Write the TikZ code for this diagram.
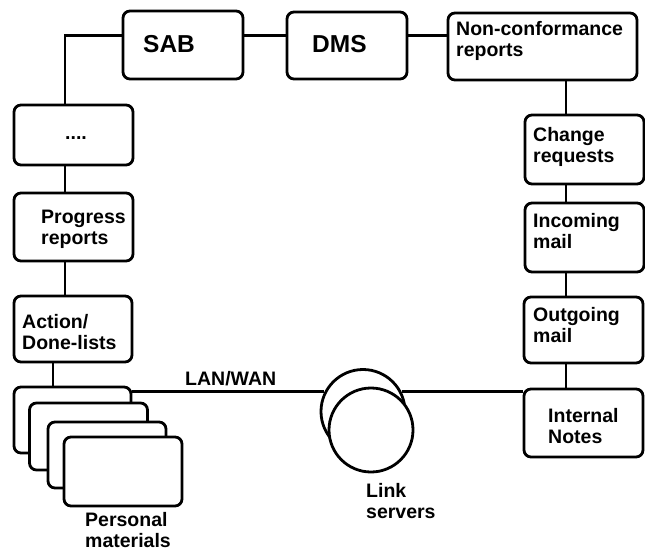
\documentclass[tikz,border=0pt]{standalone}
\usepackage{fontspec}
\setmainfont{Liberation Sans}
\tikzset{
  infobox/.style={draw, line width=2.8pt, rounded corners=7pt, fill=white, inner sep=0pt},
  linkdisk/.style={draw, line width=2.8pt, circle, fill=white, inner sep=0pt, minimum size=84pt},
  boxtext/.style={anchor=west, align=left, inner sep=0pt, font=\fontsize{19.5}{21}\selectfont\bfseries},
  bigtext/.style={boxtext, font=\fontsize{24.5}{26}\selectfont\bfseries},
  wire/.style={line width=2.8pt}
}
\begin{document}
\begin{tikzpicture}[x=1pt, y=-1pt]
  \useasboundingbox (0,0) rectangle (645,552);

  % where the wires run
  \coordinate (topwire) at (0,35.5);
  \coordinate (leftwire) at (65,0);
  \coordinate (rightwire) at (566,0);
  \coordinate (stackwire) at (53,0);

  % top row
  \node[infobox, minimum width=120pt, minimum height=68pt] (sab) at (183,45) {};
  \node[infobox, minimum width=120pt, minimum height=67pt] (dms) at (347,45.5) {};
  \node[infobox, minimum width=189pt, minimum height=67pt] (ncr) at (542.5,46.5) {};

  % right column
  \node[infobox, minimum width=119pt, minimum height=69pt] (change) at (584.5,149.5) {};
  \node[infobox, minimum width=119pt, minimum height=69pt] (incoming) at (584.5,237.5) {};
  \node[infobox, minimum width=119pt, minimum height=66pt] (outgoing) at (583.5,330) {};
  \node[infobox, minimum width=119pt, minimum height=68pt] (internal) at (583.5,423) {};

  % left column
  \node[infobox, minimum width=119pt, minimum height=60pt] (dots) at (73.5,135) {};
  \node[infobox, minimum width=119pt, minimum height=68pt] (progress) at (73.5,227) {};
  \node[infobox, minimum width=118pt, minimum height=66pt] (action) at (73,329) {};

  % connectors, drawn before the stack and the disks
  \coordinate (bend) at (leftwire |- topwire);
  \draw[wire] (dots.north -| leftwire) -- (bend) -- (sab.west |- topwire);
  \draw[wire] (sab.east |- topwire) -- (dms.west |- topwire);
  \draw[wire] (dms.east |- topwire) -- (ncr.west |- topwire);
  \draw[wire] (ncr.south -| rightwire) -- (change.north -| rightwire);
  \draw[wire] (change.south -| rightwire) -- (incoming.north -| rightwire);
  \draw[wire] (incoming.south -| rightwire) -- (outgoing.north -| rightwire);
  \draw[wire] (outgoing.south -| rightwire) -- (internal.north -| rightwire);
  \draw[wire] (dots.south -| leftwire) -- (progress.north -| leftwire);
  \draw[wire] (progress.south -| leftwire) -- (action.north -| leftwire);

  % personal materials
  \node[infobox, minimum width=117pt, minimum height=66pt] (stacka) at (72.5,420) {};
  \node[infobox, minimum width=118pt, minimum height=67pt] (stackb) at (88.5,436.5) {};
  \node[infobox, minimum width=118pt, minimum height=66pt] (stackc) at (107,455) {};
  \node[infobox, minimum width=118pt, minimum height=69pt] (stackd) at (123,471.5) {};
  \draw[wire] (action.south -| stackwire) -- (stacka.north -| stackwire);

  % link servers
  \node[linkdisk] (linkback) at (363,411.5) {};
  \node[linkdisk] (linkfront) at (371,430) {};
  \draw[wire] (stacka.east |- linkback.153) -- (linkback.153);
  \draw[wire] (linkback.27) -- (linkback.27 -| internal.west);

  % labels
  \node[bigtext] (sabtext) at (143,44) {SAB};
  \node[bigtext] (dmstext) at (312,44) {DMS};
  \node[boxtext] (ncrtext) at (456,41) {Non-conformance\\reports};
  \node[boxtext] (changetext) at (533,147) {Change\\requests};
  \node[boxtext] (incomingtext) at (533,231) {Incoming\\mail};
  \node[boxtext] (outgoingtext) at (533,325) {Outgoing\\mail};
  \node[boxtext] (internaltext) at (548,426) {Internal\\Notes};
  \node[boxtext] (dotstext) at (65,138) {....};
  \node[boxtext] (progresstext) at (41,229) {Progress\\reports};
  \node[boxtext] (actiontext) at (22,332) {Action/\\Done-lists};
  \node[boxtext] (lantext) at (185,379) {LAN/WAN};
  \node[boxtext] (linktext) at (366,501) {Link\\servers};
  \node[boxtext] (personaltext) at (85,530) {Personal\\materials};
\end{tikzpicture}
\end{document}
